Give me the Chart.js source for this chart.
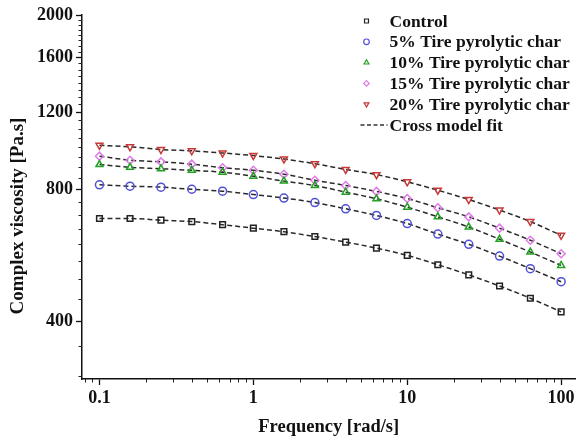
<!DOCTYPE html>
<html>
<head>
<meta charset="utf-8">
<script src="https://cdn.jsdelivr.net/npm/chart.js@4.4.1/dist/chart.umd.min.js"></script>
<style>
  html, body { margin: 0; padding: 0; background: #fff; }
</style>
</head>
<body>
<canvas id="viscosite" width="581" height="441"></canvas>
<script>
// ============================================================================
// Données (viscosité complexe en Pa.s)
// ============================================================================
const frequences = [0.1, 0.158, 0.251, 0.398, 0.631, 1, 1.58, 2.51, 3.98, 6.31, 10, 15.8, 25.1, 39.8, 63.1, 100];

const controle  = [686, 686, 680, 675, 664, 652, 640, 624, 606, 587, 565, 538, 510, 481, 451, 420];
const char5     = [819, 813, 809, 800, 792, 778, 764, 746, 722, 697, 668, 632, 599, 563, 527, 492];
const char10    = [911, 898, 891, 884, 875, 857, 835, 816, 788, 761, 728, 692, 656, 615, 575, 536];
const char15    = [952, 932, 924, 913, 896, 884, 866, 839, 816, 791, 762, 726, 692, 652, 612, 570];
const char20    = [1008, 1000, 986, 979, 968, 955, 938, 915, 888, 864, 832, 796, 758, 717, 675, 628];

const etiquettes = ['Control', '5% Tire pyrolytic char', '10% Tire pyrolytic char',
                    '15% Tire pyrolytic char', '20% Tire pyrolytic char'];
const etiquetteAjustement = 'Cross model fit';

const graduationsX = [0.1, 1, 10, 100];
const graduationsY = [400, 800, 1200, 1600, 2000];

// Style des marqueurs (couleur, forme, rotation)
const couleurs = ['#222222', '#5050d8', '#22a022', '#e07ae8', '#c83838'];
const formes = ['rect', 'circle', 'triangle', 'rectRot', 'triangle'];
const rotations = [0, 0, 0, 0, 180];

const POLICE = '"Liberation Serif", "Times New Roman", serif';

// Petites graduations (log en x, tous les 50 en y)
const mineursX = [];
[0.01, 0.1, 1, 10].forEach(dec => {
    for (let k = 2; k <= 9; k++) mineursX.push(dec * k);
});
const mineursY = [];
for (let v = 300; v < 2000; v += 50) {
    if (v % 400 !== 0) mineursY.push(v);
}

// ============================================================================
// Plugins : petites graduations et légende dans la zone du graphique
// ============================================================================
const petitesGraduations = {
    id: 'petitesGraduations',
    afterDraw(chart) {
        const { ctx, scales: { x, y } } = chart;
        ctx.save();
        ctx.strokeStyle = '#222';
        ctx.lineWidth = 1;
        ctx.beginPath();
        mineursX.forEach(v => {
            if (v < x.min || v > x.max) return;
            const px = Math.round(x.getPixelForValue(v)) + 0.5;
            ctx.moveTo(px, x.top);
            ctx.lineTo(px, x.top + 3.5);
        });
        mineursY.forEach(v => {
            if (v < y.min || v > y.max) return;
            const py = Math.round(y.getPixelForValue(v)) + 0.5;
            ctx.moveTo(y.right, py);
            ctx.lineTo(y.right - 3.5, py);
        });
        ctx.stroke();
        ctx.restore();
    }
};

const legende = {
    id: 'legende',
    afterDraw(chart) {
        const { ctx, chartArea } = chart;
        const xTexte = chartArea.right - 186;
        const xMarque = xTexte - 23;
        const pas = 20.8;
        ctx.save();
        ctx.font = 'bold 17.5px ' + POLICE;
        ctx.textBaseline = 'middle';
        ctx.textAlign = 'left';
        chart.data.datasets.forEach((ds, i) => {
            const yy = 21 + i * pas;
            ctx.strokeStyle = ds.pointBorderColor;
            ctx.fillStyle = 'rgba(0,0,0,0)';
            ctx.lineWidth = 1.2;
            Chart.helpers.drawPoint(ctx, {
                pointStyle: ds.pointStyle,
                rotation: ds.pointRotation || 0,
                radius: 2.8,
                borderWidth: 1.2
            }, xMarque, yy);
            ctx.fillStyle = '#111';
            ctx.fillText(ds.label, xTexte, yy + 1);
        });
        const yFit = 21 + chart.data.datasets.length * pas;
        ctx.strokeStyle = '#333';
        ctx.lineWidth = 1.4;
        ctx.setLineDash([4, 2.5]);
        ctx.beginPath();
        ctx.moveTo(xMarque - 6, yFit);
        ctx.lineTo(xTexte - 2, yFit);
        ctx.stroke();
        ctx.setLineDash([]);
        ctx.fillStyle = '#111';
        ctx.fillText(etiquetteAjustement, xTexte, yFit + 1);
        ctx.restore();
    }
};

// ============================================================================
// Construction des séries
// ============================================================================
const series = [controle, char5, char10, char15, char20];

const jeux = series.map((valeurs, i) => ({
    label: etiquettes[i],
    data: frequences.map((f, k) => ({ x: f, y: valeurs[k] })),
    borderColor: '#2a2a2a',
    borderWidth: 1.5,
    borderDash: [5, 3],
    cubicInterpolationMode: 'monotone',
    fill: false,
    pointStyle: formes[i],
    pointRotation: rotations[i],
    pointRadius: 4,
    pointBorderWidth: 1.5,
    pointBorderColor: couleurs[i],
    pointBackgroundColor: 'rgba(255,255,255,0)'
}));

const axeCommun = {
    border: { display: true, color: '#111', width: 1.5 },
    grid: { drawOnChartArea: false, drawTicks: true, tickLength: 6, tickColor: '#111', tickWidth: 1.3 },
    ticks: {
        autoSkip: false,
        maxRotation: 0,
        color: '#111',
        padding: 3,
        font: { family: POLICE, size: 18, weight: 'bold' }
    }
};

new Chart(document.getElementById('viscosite'), {
    type: 'line',
    data: { datasets: jeux },
    options: {
        responsive: false,
        animation: false,
        layout: { padding: { top: 15, right: 3, left: 0, bottom: 0 } },
        plugins: {
            legend: { display: false },
            tooltip: { enabled: false }
        },
        scales: {
            x: {
                ...axeCommun,
                type: 'logarithmic',
                min: 0.077,
                max: 124,
                afterBuildTicks: (axe) => { axe.ticks = graduationsX.map(v => ({ value: v, major: true })); },
                afterFit: (axe) => { axe.height = 62; },
                ticks: { ...axeCommun.ticks, callback: (v) => String(v) },
                title: {
                    display: true,
                    text: 'Frequency [rad/s]',
                    color: '#111',
                    padding: { top: 0, bottom: 3 },
                    font: { family: POLICE, size: 18.5, weight: 'bold' }
                }
            },
            y: {
                ...axeCommun,
                type: 'logarithmic',
                min: 295,
                max: 2000,
                afterBuildTicks: (axe) => { axe.ticks = graduationsY.map(v => ({ value: v, major: true })); },
                afterFit: (axe) => { axe.width = 82; },
                ticks: { ...axeCommun.ticks, callback: (v) => String(v) },
                title: {
                    display: true,
                    // espaces de fin : le titre est légèrement décalé vers le bas dans l'original
                    text: 'Complex viscosity [Pa.s]\u2003\u2003',
                    color: '#111',
                    padding: { top: 7, bottom: 0 },
                    font: { family: POLICE, size: 19, weight: 'bold' }
                }
            }
        }
    },
    plugins: [petitesGraduations, legende]
});
</script>
</body>
</html>
